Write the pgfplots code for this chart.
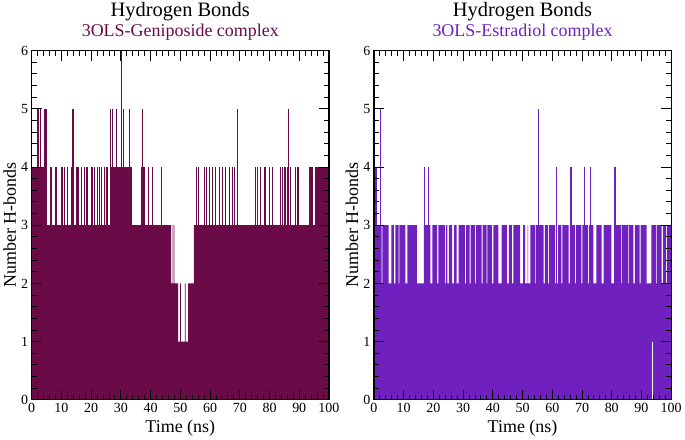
\documentclass[border=0pt]{standalone}
\usepackage{pgfplots}
\pgfplotsset{compat=1.18}
\usepackage{fontspec}
\setmainfont{Liberation Serif}
\definecolor{gmaroon}{RGB}{106,10,70}
\definecolor{epurple}{RGB}{112,32,190}

\pgfplotsset{
  hbstyle/.style={
    scale only axis, width=298pt, height=350pt,
    anchor=south west,
    clip mode=individual,
    xmin=0, xmax=100, ymin=0, ymax=6,
    xtick distance=10, ytick distance=1,
    minor x tick num=4, minor y tick num=4,
    major tick length=10pt, minor tick length=5pt,
    tick align=inside,
    every tick/.style={black, line width=0.9pt},
    axis line style={line width=1.3pt},
    axis on top,
    /pgf/number format/assume math mode=true,
    ticklabel style={font=\fontsize{14}{16}\selectfont},
    xlabel={Time (ns)}, ylabel={Number H-bonds},
    label style={font=\fontsize{18}{20}\selectfont},
    xlabel style={at={(axis description cs:0.5,-0.08)}, anchor=center},
    ylabel style={at={(axis description cs:-0.074,0.5)}, anchor=center},
  },
}
\tikzset{
  titlenode/.style={anchor=base, inner xsep=0pt, inner ysep=2.5pt, text depth=0pt,
    font=\fontsize{20.5}{22}\selectfont},
  subnode/.style={anchor=base, inner sep=0pt, font=\fontsize{18}{20}\selectfont},
}

\begin{document}
\begin{tikzpicture}
% ---------- left: Geniposide ----------
\begin{axis}[hbstyle, at={(0pt,0pt)}]
\addplot[const plot, fill=gmaroon, draw=none] coordinates {
  (0,3)(46.9,2)(47.4,3)(47.6,2)(47.8,3)(48.0,2)(49.3,1)(49.9,2)(50.2,1)
  (51.5,2)(51.8,1)(52.6,2)(54.6,3)(100,3)
} \closedcycle;
\addplot[ycomb, draw=gmaroon, line width=1.1pt, mark=none] coordinates {
  (0.1,4)(0.3,4)(0.5,4)(0.7,4)(0.9,4)(1.1,4)(1.3,4)(1.5,4)(2.0,4)(2.2,4)
  (2.8,4)(3.3,4)(3.5,4)(3.7,4)(4.0,4)(4.2,4)
  (6.26,4)(6.82,4)(7.94,4)(8.5,4)(9.95,4)(10.5,4)(11.07,4)(11.97,4)(13.3,4)(13.6,4)
  (15.2,4)(15.5,4)(15.9,4)(16.7,4)(17.8,4)(18.4,4)(18.9,4)(20.0,4)(20.6,4)(21.1,4)
  (22.3,4)(22.8,4)(23.4,4)(24.5,4)(25.1,4)(25.6,4)
  (26.6,4)(26.9,4)(27.1,4)(27.5,4)(27.7,4)(28.0,4)(28.2,4)(28.6,4)(28.8,4)(29.1,4)
  (29.3,4)(29.6,4)(29.9,4)(30.4,4)(30.7,4)(31.2,4)(31.6,4)(32.0,4)(32.3,4)(32.6,4)
  (33.1,4)(33.4,4)(36.8,4)(37.1,4)(37.6,4)(37.9,4)(39.3,4)(40.7,4)(43.7,4)
  (55.3,4)(56.0,4)(58.1,4)(58.8,4)(59.7,4)(60.8,4)(61.7,4)(63.1,4)(64.2,4)(65.3,4)
  (66.4,4)(67.6,4)(68.3,4)
  (75.4,4)(75.9,4)(77.1,4)(78.2,4)(78.8,4)(79.9,4)(81.0,4)(83.8,4)(84.3,4)(85.2,4)
  (86.0,4)(87.1,4)(88.8,4)(89.4,4)(89.9,4)(93.3,4)(93.6,4)(93.9,4)(94.3,4)
  (95.5,4)(95.8,4)(96.1,4)(96.5,4)(96.8,4)(97.2,4)(97.6,4)(98.0,4)(98.4,4)(98.8,4)
  (99.1,4)(99.4,4)
  (1.9,5)(2.4,5)(3.0,5)(4.5,5)(4.7,5)(4.9,5)(5.1,5)(13.9,5)(26.5,5)(27.3,5)
  (28.4,5)(30.9,5)(32.9,5)(37.4,5)(69.2,5)(86.3,5)
  (30.3,6)
};
\node[titlenode, yshift=34pt] at (rel axis cs:0.5,1) {Hydrogen Bonds};
\node[subnode, yshift=14pt, text=gmaroon] at (rel axis cs:0.5,1) {3OLS-Geniposide complex};
\end{axis}

% ---------- right: Estradiol ----------
\begin{axis}[hbstyle, at={(343pt,0pt)}]
\addplot[const plot, fill=epurple, draw=none] coordinates {
  (0,3)(2.6,2)(2.9,3)(5.0,2)(5.9,3)(6.7,2)(7.2,3)(8.3,2)(8.6,3)(10.6,2)(11.3,3)
  (14.5,2)(16.8,3)(19.0,2)(19.7,3)(21.3,2)(21.7,3)(23.9,2)(24.2,3)(24.7,2)(25.2,3)
  (26.3,2)(27.0,3)(27.8,2)(28.5,3)(30.6,2)(31.0,3)(32.2,2)(32.5,3)(34.0,2)(34.3,3)
  (36.2,2)(36.6,3)(37.9,2)(38.2,3)(39.7,2)(40.2,3)(41.9,2)(43.0,3)(44.7,2)(45.4,3)
  (46.4,2)(46.9,3)(49.2,2)(50.2,3)(50.9,2)(51.7,3)(51.9,2)(52.6,3)(54.2,2)(54.5,3)
  (57.1,2)(57.5,3)(58.6,2)(58.9,3)(61.0,2)(62.0,3)(63.1,2)(63.4,3)(65.5,2)(65.9,3)
  (67.6,2)(67.9,3)(69.8,2)(70.1,3)(72.0,2)(72.3,3)(73.8,2)(74.8,3)(76.6,2)(77.3,3)
  (79.9,2)(80.9,3)(83.2,2)(83.5,3)(85.5,2)(85.8,3)(87.3,2)(87.8,3)(89.4,2)(89.7,3)
  (91.7,2)(93.3,3)(95.0,2)(95.3,3)(96.8,2)(97.3,3)(98.3,2)(98.6,3)(100,3)
} \closedcycle;
\addplot[ycomb, draw=epurple, line width=1.1pt, mark=none] coordinates {
  (0.4,4)(0.7,4)(17.1,4)(18.5,4)(61.4,4)(66.3,4)(70.9,4)(72.8,4)(81.1,4)
  (2.2,5)(55.4,5)
};
\addplot[ycomb, draw=white, line width=0.8pt, mark=none] coordinates {(93.7,1)};
\node[titlenode, yshift=34pt] at (rel axis cs:0.5,1) {Hydrogen Bonds};
\node[subnode, yshift=14pt, text=epurple] at (rel axis cs:0.5,1) {3OLS-Estradiol complex};
\end{axis}
\end{tikzpicture}
\end{document}
